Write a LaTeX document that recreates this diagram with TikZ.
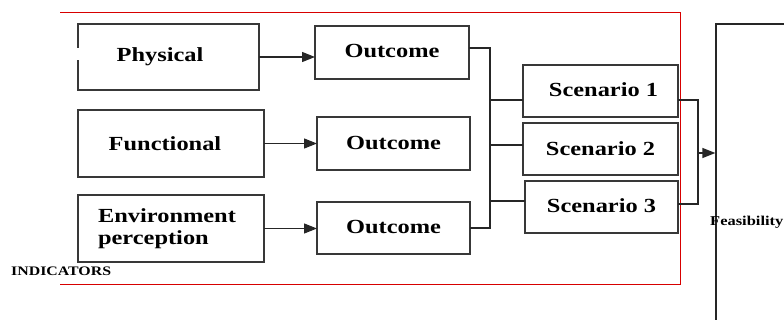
\documentclass[tikz,border=0pt]{standalone}
\usepackage{fontspec}
\setmainfont{Liberation Serif}[FakeStretch=1.22]
\usetikzlibrary{arrows.meta}
\definecolor{frame}{RGB}{215,0,0}
\tikzset{
  box/.style={draw=black!78, line width=1.3pt, rectangle, inner sep=0pt, outer sep=0pt,
    font=\bfseries\fontsize{20}{21.5}\selectfont},
  conn/.style={draw=black!85, line width=1.2pt},
  arr/.style={conn, -{Triangle[length=13pt,width=10pt]}},
}
\begin{document}
\begin{tikzpicture}[x=1pt,y=-1pt]
\useasboundingbox (0,0) rectangle (784,320);
\clip (0,0) rectangle (784,320);
% red frame
\draw[frame, line width=0.9pt] (60,12) -- (680,12) -- (680,284) -- (60,284);
% indicator boxes
\node[box, minimum width=181pt, minimum height=66pt] (phys) at (168.5,57) {\hspace*{-17pt}Physical};
\node[box, minimum width=186pt, minimum height=67pt] (func) at (171,143.5) {\hspace*{-12pt}Functional};
\node[box, minimum width=186pt, minimum height=67pt, align=left] (env) at (171,228.5) {\hspace*{-8pt}Environment\\\hspace*{-8pt}perception};
\draw[white, line width=3pt] (78,48) -- (78,60);
% outcomes
\node[box, minimum width=154pt, minimum height=53pt] (o1) at (392,52.5) {\raisebox{4pt}{Outcome}};
\node[box, minimum width=153pt, minimum height=53pt] (o2) at (393.5,143.5) {Outcome};
\node[box, minimum width=153pt, minimum height=52pt] (o3) at (393.5,228) {\raisebox{2pt}{Outcome}};
% scenarios
\node[box, minimum width=155pt, minimum height=52pt] (s1) at (600.5,91) {\hspace*{6pt}\raisebox{2pt}{Scenario 1}};
\node[box, minimum width=155pt, minimum height=52pt] (s2) at (600.5,149) {\raisebox{-3pt}{Scenario 2}};
\node[box, minimum width=153pt, minimum height=52pt] (s3) at (601.5,207) {\raisebox{2pt}{Scenario 3}};
% feasibility box
\node[draw=black!85, line width=1.2pt, rectangle, minimum width=120pt, minimum height=330pt, inner sep=0pt] (feas) at (776,189) {};
\node[anchor=west, inner sep=0pt, font=\bfseries\fontsize{13.5}{14}\selectfont] (feastxt) at (710,222) {Feasibility};
\node[anchor=west, inner sep=0pt, font=\bfseries\fontsize{13}{14}\selectfont] (ind) at (11,271) {INDICATORS};
% arrows indicators -> outcomes
\draw[arr] (phys.east) -- (phys.east -| o1.west);
\draw[arr] (func.east) -- (func.east -| o2.west);
\draw[arr] (env.east) -- (env.east -| o3.west);
% left bus
\coordinate (bl) at (490,0);
\coordinate (o1e) at ([yshift=4.5pt]o1.east);
\draw[conn] (o1e) -- (o1e -| bl) -- (o3.east -| bl) -- (o3.east);
\coordinate (s1w) at ([yshift=-9pt]s1.west);
\coordinate (s2w) at ([yshift=4pt]s2.west);
\coordinate (s3w) at ([yshift=6pt]s3.west);
\draw[conn] (s1w -| bl) -- (s1w);
\draw[conn] (s2w -| bl) -- (s2w);
\draw[conn] (s3w -| bl) -- (s3w);
% right bus
\coordinate (br) at (698,0);
\coordinate (s1e) at ([yshift=-9pt]s1.east);
\coordinate (s3e) at ([yshift=3pt]s3.east);
\draw[conn] (s1e) -- (s1e -| br) -- (s3e -| br) -- (s3e);
\coordinate (ast) at (698,153);
\draw[arr] (ast) -- (ast -| feas.west);
\end{tikzpicture}
\end{document}
